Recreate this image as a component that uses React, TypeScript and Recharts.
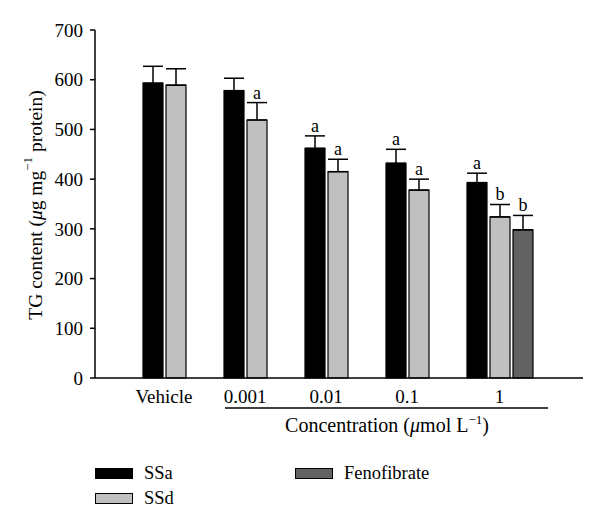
import { BarChart, Bar, XAxis, YAxis, ErrorBar, LabelList } from "recharts";

const FONT = "'Liberation Serif', 'Times New Roman', serif";

// values (TG content, µg mg-1 protein)
const categories = ["Vehicle", "0.001", "0.01", "0.1", "1"];
const ssa = [593, 578, 462, 432, 393];
const ssaErr = [34, 25, 25, 28, 19];
const ssaSig = ["", "", "a", "a", "a"];
const ssd = [589, 519, 415, 378, 324];
const ssdErr = [33, 35, 25, 22, 25];
const ssdSig = ["", "a", "a", "a", "b"];
const feno: (number | null)[] = [null, null, null, null, 298];
const fenoErr: (number | null)[] = [null, null, null, null, 29];
const fenoSig = ["", "", "", "", "b"];
const yTicks = [0, 100, 200, 300, 400, 500, 600, 700];

const BAR_SIZE = 20;
const BAR_GAP = 3;

const data = categories.map((name, i) => ({
  name,
  ssa: ssa[i],
  ssaE: [0, ssaErr[i]],
  ssd: ssd[i],
  ssdE: [0, ssdErr[i]],
  feno: feno[i],
  fenoE: fenoErr[i] == null ? null : [0, fenoErr[i]],
}));

// significance letter sitting just above the error bar cap
function sigLabel(values: (number | null)[], letters: string[], errs: (number | null)[]) {
  return (props: any) => {
    const vb = props.viewBox ?? props;
    const { x, y, width, height } = vb;
    const { value } = props;
    const i = values.indexOf(Number(value));
    if (i < 0) return null;
    const t = letters[i];
    if (!t || errs[i] == null) return null;
    const capY = y - ((errs[i] as number) * height) / Number(value);
    return (
      <text x={x + width / 2} y={capY - 4} textAnchor="middle" fontSize={18} fontFamily={FONT} fill="#000">
        {t}
      </text>
    );
  };
}

// tick centred under the bars actually present in the group
function XTick(props: any) {
  const { x, y, payload } = props;
  const shift = feno[payload.index] == null ? -(BAR_SIZE + BAR_GAP) / 2 : 0;
  return (
    <text x={x + shift} y={y} dy="0.7em" textAnchor="middle" fontSize={19} fontFamily={FONT} fill="#000">
      {payload.value}
    </text>
  );
}

function YTitle(props: any) {
  const vb = props.viewBox;
  const cx = vb.x + 35;
  const cy = vb.y + vb.height / 2 + 1;
  return (
    <text
      x={cx}
      y={cy}
      transform={`rotate(-90 ${cx} ${cy})`}
      textAnchor="middle"
      dominantBaseline="central"
      fontSize={19.5}
      fontFamily={FONT}
      fill="#000"
    >
      TG content (<tspan fontStyle="italic">μ</tspan>g mg
      <tspan fontSize={13} dy={-8}>−1</tspan>
      <tspan dy={8}>{"  protein)"}</tspan>
    </text>
  );
}

function XTitle(props: any) {
  const vb = props.viewBox;
  const y0 = vb.y;
  return (
    <g>
      <line x1={vb.x + 130} x2={vb.x + 453} y1={y0 + 30} y2={y0 + 30} stroke="#000" strokeWidth={1.3} />
      <text x={vb.x + 292} y={y0 + 54} textAnchor="middle" fontSize={20} fontFamily={FONT} fill="#000">
        Concentration (<tspan fontStyle="italic">μ</tspan>mol L
        <tspan fontSize={13} dy={-8}>−1</tspan>
        <tspan dy={8}>)</tspan>
      </text>
    </g>
  );
}

const legendItems = [
  { name: "SSa", color: "#000000", left: 95, top: 468 },
  { name: "SSd", color: "#c0c0c0", left: 95, top: 493 },
  { name: "Fenofibrate", color: "#626262", left: 295, top: 468 },
];

export default function App() {
  return (
    <div style={{ position: "absolute", left: 0, top: 0, width: 600, height: 530, background: "#fff" }}>
      <BarChart
        width={600}
        height={530}
        data={data}
        margin={{ top: 30, right: 17, bottom: 122, left: 0 }}
        barGap={BAR_GAP}
        barSize={BAR_SIZE}
      >
        <YAxis
          width={95}
          domain={[0, 700]}
          ticks={yTicks}
          interval={0}
          tickSize={5}
          tickMargin={7}
          stroke="#000"
          strokeWidth={1.5}
          tick={{ fill: "#000", stroke: "none", fontSize: 19, fontFamily: FONT }}
          tickLine={{ stroke: "#000", strokeWidth: 1.5 }}
          label={(p: any) => <YTitle {...p} />}
        />
        <XAxis
          dataKey="name"
          height={30}
          padding={{ left: 40, right: 43 }}
          tickLine={false}
          tickSize={0}
          tickMargin={12}
          stroke="#000"
          strokeWidth={1.5}
          tick={<XTick />}
          interval={0}
          label={(p: any) => <XTitle {...p} />}
        />
        <Bar dataKey="ssa" fill="#000000" stroke="#000" strokeWidth={1.2} isAnimationActive={false}>
          <ErrorBar dataKey="ssaE" direction="y" width={10} stroke="#000" strokeWidth={1.5} />
          <LabelList dataKey="ssa" content={sigLabel(ssa, ssaSig, ssaErr)} />
        </Bar>
        <Bar dataKey="ssd" fill="#c0c0c0" stroke="#000" strokeWidth={1.2} isAnimationActive={false}>
          <ErrorBar dataKey="ssdE" direction="y" width={10} stroke="#000" strokeWidth={1.5} />
          <LabelList dataKey="ssd" content={sigLabel(ssd, ssdSig, ssdErr)} />
        </Bar>
        <Bar dataKey="feno" fill="#626262" stroke="#000" strokeWidth={1.2} isAnimationActive={false}>
          <ErrorBar dataKey="fenoE" direction="y" width={10} stroke="#000" strokeWidth={1.5} />
          <LabelList dataKey="feno" content={sigLabel(feno, fenoSig, fenoErr)} />
        </Bar>
      </BarChart>
      {legendItems.map((it) => (
        <div key={it.name} style={{ position: "absolute", left: it.left, top: it.top, display: "flex", alignItems: "center" }}>
          <span
            style={{
              display: "inline-block",
              width: 36,
              height: 9,
              background: it.color,
              border: "1px solid #000",
            }}
          />
          <span style={{ marginLeft: 11, fontFamily: FONT, fontSize: 18.5, lineHeight: "11px", color: "#000" }}>{it.name}</span>
        </div>
      ))}
    </div>
  );
}
